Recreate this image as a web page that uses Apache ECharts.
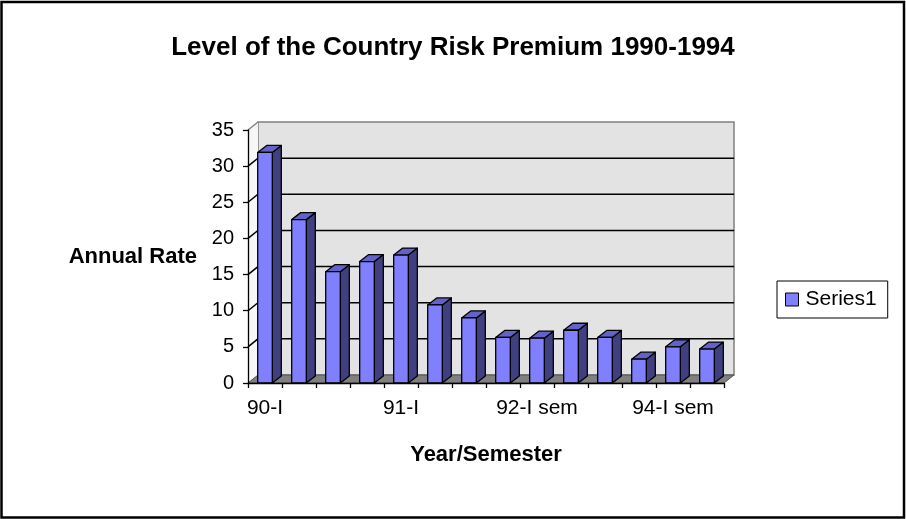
<!DOCTYPE html>
<html lang="en">
<head>
  <meta charset="UTF-8" />
  <title>Level of the Country Risk Premium 1990-1994</title>
  <script src="https://cdn.jsdelivr.net/npm/echarts@6.0.0/dist/echarts.min.js"></script>
  <style>
    body { margin: 0; background: #fff; }
    #chart { width: 906px; height: 519px; }
  </style>
</head>
<body>
  <div id="chart"></div>
  <script>
    // data
    const periods = ['90-I', '90-II', '90-III', '90-IV', '91-I', '91-II', '91-III', '91-IV',
      '92-I sem', '92-II sem', '93-I sem', '93-II sem', '94-I sem', '94-II sem'];
    const series1 = [31.9, 22.6, 15.4, 16.8, 17.7, 10.8, 9.0, 6.3, 6.2, 7.3, 6.3, 3.3, 5.0, 4.7];
    const yTicks = [0, 5, 10, 15, 20, 25, 30, 35];

    const font = 'Liberation Sans, Arial, sans-serif';
    // 3d depth of walls and bars (pixels)
    const DX = 10, DY = -8;
    const BX = 9, BY = -7;

    const chart = echarts.init(document.getElementById('chart'));

    function renderWalls(params, api) {
      const cs = params.coordSys;
      const x0 = cs.x, x1 = cs.x + cs.width;
      const yTop = cs.y, yBot = cs.y + cs.height;
      const kids = [];
      // back wall
      kids.push({
        type: 'rect',
        shape: { x: x0 + DX, y: yTop + DY, width: x1 - x0, height: yBot - yTop },
        style: { fill: '#E3E3E3', stroke: '#808080', lineWidth: 1.5 }
      });
      // left side wall
      kids.push({
        type: 'polygon',
        shape: { points: [[x0, yTop], [x0 + DX, yTop + DY], [x0 + DX, yBot + DY], [x0, yBot]] },
        style: { fill: '#F7F7F7' }
      });
      kids.push({
        type: 'line',
        shape: { x1: x0, y1: yTop, x2: x0 + DX, y2: yTop + DY },
        style: { stroke: '#808080', lineWidth: 1.5 }
      });
      // gridlines on back wall and side wall
      yTicks.forEach(function (v) {
        if (v === 0 || v === yTicks[yTicks.length - 1]) return;
        const y = api.coord([0, v])[1];
        kids.push({
          type: 'polyline',
          shape: { points: [[x0, y], [x0 + DX, y + DY], [x1 + DX, y + DY]] },
          style: { stroke: '#000', lineWidth: 1.5, fill: null }
        });
      });
      // floor
      kids.push({
        type: 'polygon',
        shape: { points: [[x0, yBot], [x0 + DX, yBot + DY], [x1 + DX, yBot + DY], [x1, yBot]] },
        style: { fill: '#808080', stroke: '#505050', lineWidth: 1 }
      });
      return { type: 'group', children: kids };
    }

    function renderBar(params, api) {
      const top = api.coord([api.value(0), api.value(1)]);
      const base = api.coord([api.value(0), 0]);
      const w = api.size([1, 0])[0] * 0.43;
      const xl = top[0] - w / 2, xr = top[0] + w / 2;
      const yt = top[1], yb = base[1];
      const line = { stroke: '#000', lineWidth: 1.3, lineJoin: 'round' };
      return {
        type: 'group',
        children: [
          {
            type: 'polygon',
            shape: { points: [[xr, yb], [xr + BX, yb + BY], [xr + BX, yt + BY], [xr, yt]] },
            style: Object.assign({ fill: '#404080' }, line)
          },
          {
            type: 'polygon',
            shape: { points: [[xl, yt], [xr, yt], [xr + BX, yt + BY], [xl + BX, yt + BY]] },
            style: Object.assign({ fill: '#6262C8' }, line)
          },
          {
            type: 'rect',
            shape: { x: xl, y: yt, width: w, height: yb - yt },
            style: Object.assign({ fill: '#8080FF' }, line)
          }
        ]
      };
    }

    chart.setOption({
      animation: false,
      backgroundColor: '#fff',
      title: {
        text: 'Level of the Country Risk Premium 1990-1994',
        left: 'center',
        top: 35,
        padding: 0,
        textStyle: { fontFamily: font, fontSize: 26, fontWeight: 'bold', color: '#000' }
      },
      legend: {
        left: 777,
        top: 281,
        padding: [8, 11, 8, 8],
        borderColor: '#000',
        borderWidth: 1,
        itemWidth: 13,
        itemHeight: 13,
        itemGap: 8,
        icon: 'rect',
        data: [{ name: 'Series1', itemStyle: { color: '#8080FF', borderColor: '#000', borderWidth: 1 } }],
        textStyle: { fontFamily: font, fontSize: 21, color: '#000', padding: [0, 0, 0, 2] }
      },
      grid: { left: 248, top: 130, width: 476, height: 253 },
      xAxis: {
        type: 'category',
        data: periods,
        z: 10,
        name: 'Year/Semester',
        nameLocation: 'middle',
        nameGap: 61,
        nameTextStyle: { fontFamily: font, fontSize: 22, fontWeight: 'bold', color: '#000' },
        axisLine: { lineStyle: { color: '#000', width: 1.3 } },
        axisTick: { show: true, interval: 0, length: 5, lineStyle: { color: '#000', width: 1.3 } },
        axisLabel: { interval: 3, margin: 15, fontFamily: font, fontSize: 21, color: '#000' },
        splitLine: { show: false }
      },
      yAxis: {
        type: 'value',
        min: 0,
        max: 35,
        interval: 5,
        z: 10,
        name: 'Annual Rate',
        nameLocation: 'middle',
        nameRotate: 0,
        nameGap: 51,
        nameTextStyle: { fontFamily: font, fontSize: 22, fontWeight: 'bold', color: '#000' },
        axisLine: { show: true, lineStyle: { color: '#000', width: 1.3 } },
        axisTick: { show: true, length: 5, lineStyle: { color: '#000', width: 1.3 } },
        axisLabel: { margin: 14, fontFamily: font, fontSize: 20, color: '#000' },
        splitLine: { show: false }
      },
      series: [
        {
          name: 'walls',
          type: 'custom',
          silent: true,
          z: 1,
          renderItem: renderWalls,
          data: [[0, 0]]
        },
        {
          name: 'Series1',
          type: 'custom',
          z: 2,
          itemStyle: { color: '#8080FF' },
          renderItem: renderBar,
          encode: { x: 0, y: 1 },
          data: series1.map(function (v, i) { return [i, v]; })
        }
      ],
      graphic: [
        {
          type: 'rect',
          silent: true,
          z: 100,
          shape: { x: 1.5, y: 2, width: 902.5, height: 515.5 },
          style: { fill: null, stroke: '#000', lineWidth: 2.5 }
        }
      ]
    });
  </script>
</body>
</html>
